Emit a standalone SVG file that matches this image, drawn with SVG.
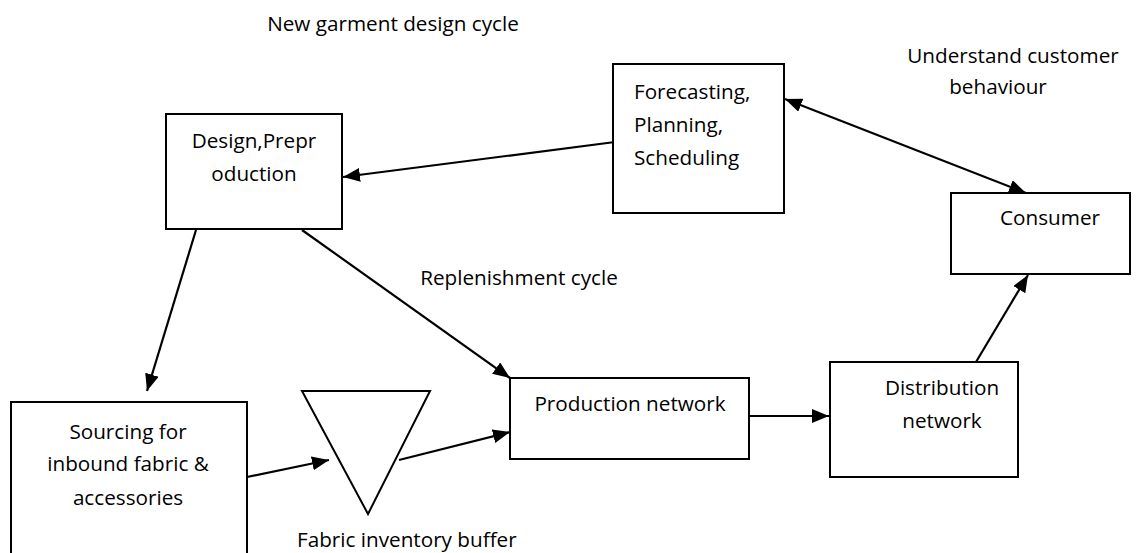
<svg xmlns="http://www.w3.org/2000/svg" width="1142" height="553" viewBox="0 0 1142 553">
<style>
.box{fill:#fff;stroke:#000;stroke-width:2}
.t{font-family:"Open Sans","Liberation Sans",sans-serif;font-size:20.7px;fill:#000}
.m{text-anchor:middle}
.c{fill:none;stroke:#000;stroke-width:2.2}
</style>
<defs>
<marker id="ah" markerUnits="userSpaceOnUse" markerWidth="18" markerHeight="15" refX="17" refY="7" orient="auto-start-reverse">
<path d="M0,0 L17,7 L0,14 z" fill="#000"/>
</marker>
</defs>
<rect width="1142" height="553" fill="#fff"/>
<g id="connectors">
<line class="c" x1="615" y1="142" x2="343" y2="177" marker-end="url(#ah)"/>
<line class="c" x1="785" y1="99" x2="1026" y2="193" marker-start="url(#ah)" marker-end="url(#ah)"/>
<line class="c" x1="196" y1="230" x2="147" y2="391" marker-end="url(#ah)"/>
<line class="c" x1="302" y1="230" x2="510" y2="378" marker-end="url(#ah)"/>
<line class="c" x1="247" y1="477" x2="329" y2="460" marker-end="url(#ah)"/>
<line class="c" x1="399" y1="460" x2="510" y2="432" marker-end="url(#ah)"/>
<line class="c" x1="749" y1="416" x2="829" y2="416" marker-end="url(#ah)"/>
<line class="c" x1="976" y1="362" x2="1028" y2="275" marker-end="url(#ah)"/>
</g>
<g id="design">
<rect class="box" x="166" y="114" width="176" height="115"/>
<text class="t m" x="254" y="148">Design,Prepr</text>
<text class="t m" x="254" y="181">oduction</text>
</g>
<g id="forecasting">
<rect class="box" x="613" y="64" width="171" height="149"/>
<text class="t" x="634" y="99">Forecasting,</text>
<text class="t" x="634" y="132">Planning,</text>
<text class="t" x="634" y="165">Scheduling</text>
</g>
<g id="consumer">
<rect class="box" x="951" y="193" width="179" height="81"/>
<text class="t m" x="1050" y="225">Consumer</text>
</g>
<g id="sourcing">
<rect class="box" x="11" y="402" width="236" height="160"/>
<text class="t m" x="128" y="439">Sourcing for</text>
<text class="t m" x="128" y="471">inbound fabric &amp;</text>
<text class="t m" x="128" y="505">accessories</text>
</g>
<g id="buffer">
<polygon class="box" points="302,391 430,391 368,514"/>
<text class="t" x="297" y="547">Fabric inventory buffer</text>
</g>
<g id="production">
<rect class="box" x="510" y="378" width="239" height="81"/>
<text class="t m" x="630" y="411">Production network</text>
</g>
<g id="distribution">
<rect class="box" x="830" y="362" width="188" height="115"/>
<text class="t m" x="942" y="395">Distribution</text>
<text class="t m" x="942" y="428">network</text>
</g>
<g id="labels">
<text class="t m" x="393" y="31">New garment design cycle</text>
<text class="t m" x="1013" y="63">Understand customer</text>
<text class="t m" x="998" y="94">behaviour</text>
<text class="t m" x="519" y="285">Replenishment cycle</text>
</g>
</svg>
